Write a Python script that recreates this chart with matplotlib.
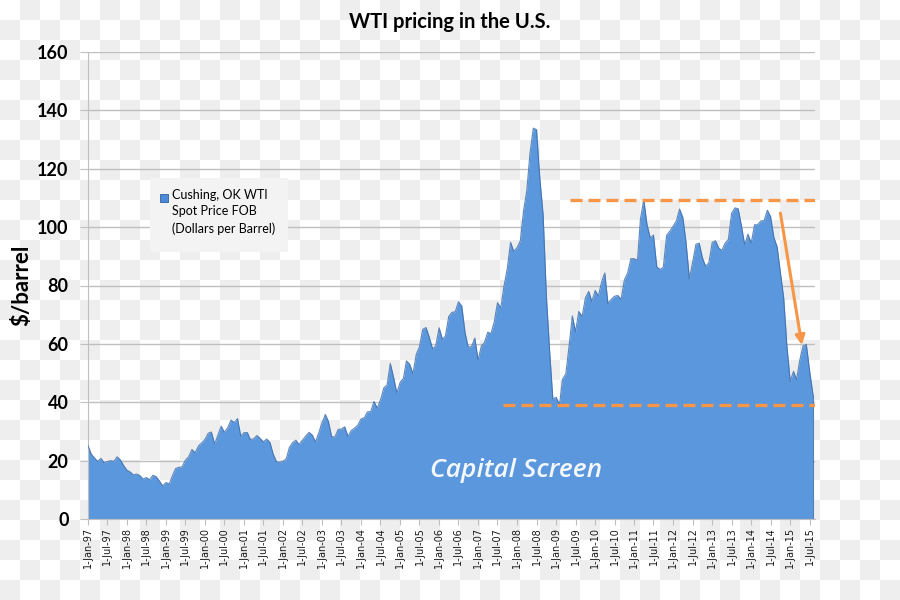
import numpy as np
import pandas as pd
import matplotlib
matplotlib.use("Agg")
import matplotlib.pyplot as plt
import matplotlib.dates as mdates
from matplotlib.patches import Rectangle

# monthly Cushing, OK WTI spot price, Jan 1997 .. Aug 2015 ($/barrel)
price_1997_2001 = [25.1, 22.2, 21.0, 19.7, 20.8, 19.3, 19.7, 20.0, 19.8, 21.3, 20.2, 18.3,
                   16.7, 16.1, 15.1, 15.4, 14.9, 13.7, 14.2, 13.5, 15.0, 14.5, 13.0, 11.4,
                   12.5, 12.0, 14.7, 17.3, 17.7, 17.9, 20.1, 21.3, 23.8, 22.7, 25.0, 26.1,
                   27.3, 29.4, 29.8, 25.7, 28.8, 31.8, 29.7, 31.3, 33.9, 33.1, 34.4, 28.4,
                   29.6, 29.6, 27.2, 27.5, 28.6, 27.6, 26.4, 27.4, 26.2, 22.2, 19.6, 19.4]
price_2002_2006 = [19.7, 20.7, 24.5, 26.2, 27.0, 25.5, 27.0, 28.4, 29.7, 28.8, 26.4, 29.5,
                   33.0, 35.8, 33.5, 28.2, 28.1, 30.7, 30.8, 31.6, 28.3, 30.3, 31.1, 32.1,
                   34.3, 34.7, 36.7, 36.8, 40.3, 38.0, 40.8, 44.9, 45.9, 53.3, 48.5, 43.2,
                   46.8, 48.2, 54.2, 53.0, 49.8, 56.4, 59.0, 65.0, 65.6, 62.3, 58.3, 59.4,
                   65.5, 61.6, 62.7, 69.4, 70.8, 71.0, 74.4, 73.0, 63.8, 58.9, 59.1, 62.0]
price_2007_2011 = [54.5, 59.3, 60.4, 64.0, 63.5, 67.5, 74.1, 72.4, 79.9, 85.8, 94.8, 91.7,
                   93.0, 95.4, 105.5, 112.6, 125.4, 133.9, 133.4, 116.7, 104.1, 76.6, 57.3, 41.1,
                   41.7, 39.1, 47.9, 49.7, 59.0, 69.6, 64.2, 71.1, 69.4, 75.7, 78.0, 74.5,
                   78.3, 76.4, 81.2, 84.3, 73.7, 75.3, 76.3, 76.6, 75.2, 81.9, 84.3, 89.2,
                   89.2, 88.6, 102.9, 109.5, 100.9, 96.3, 97.3, 86.3, 85.5, 86.3, 97.2, 98.6]
price_2012_2015 = [100.3, 102.2, 106.2, 103.3, 94.7, 82.3, 87.9, 94.1, 94.5, 89.5, 86.5, 87.9,
                   94.8, 95.3, 92.9, 92.0, 94.5, 95.8, 104.7, 106.6, 106.3, 100.5, 93.9, 97.6,
                   94.6, 100.8, 100.8, 102.1, 102.2, 105.8, 103.6, 96.5, 93.2, 84.4, 75.8, 59.3,
                   47.2, 50.6, 47.8, 54.5, 59.3, 59.8, 50.9, 42.9]
prices = price_1997_2001 + price_2002_2006 + price_2007_2011 + price_2012_2015
months = pd.date_range("1997-01-01", periods=len(prices), freq="MS")

tick_dates = pd.date_range("1997-01-01", "2015-07-01", freq="6MS")
tick_labels = [f"1-{d.strftime('%b')}-{d.strftime('%y')}" for d in tick_dates]

# orange annotation: resistance / support levels and the 2014-15 drop
high_level, high_start = 109.2, "2009-05-10"
low_level, low_start = 39.0, "2007-08-21"
level_end = "2015-08-21"
drop_from = ("2014-10-01", 104.8)
drop_to = ("2015-04-20", 59.6)

blue = "#5b97dc"
orange = "#f79646"
grid_grey = "#bfbfbf"

fig = plt.figure(figsize=(9, 6), dpi=100)

# transparent-png checkerboard backdrop
rows, cols = 30, 45
cells = np.add.outer(np.arange(rows), np.arange(cols)) % 2
shade = np.where(cells == 1, 0xee, 0xff) / 255.0
checker = np.kron(shade, np.ones((20, 20)))
checker_rgb = np.dstack([checker, checker, checker])
fig.figimage(checker_rgb, xo=0, yo=0, origin="upper", zorder=-10)

ax = fig.add_axes([88 / 900, 1 - 519 / 600, 727 / 900, 467 / 600])
ax.set_zorder(1)
ax.patch.set_alpha(0)

ax.fill_between(months, prices, 0, color=blue, linewidth=0, zorder=2)
ax.plot(months, prices, color="#3b6cab", lw=0.8, alpha=0.8, zorder=3)
ax.vlines(months[-1], 0, prices[-1], color="#3b6cab", lw=0.8, alpha=0.8, zorder=3)

ax.hlines(high_level, pd.Timestamp(high_start), pd.Timestamp(level_end), color=orange,
          lw=2.4, linestyles=(0, (3.6, 1.8)), zorder=4)
ax.hlines(low_level, pd.Timestamp(low_start), pd.Timestamp(level_end), color=orange,
          lw=2.4, linestyles=(0, (3.6, 1.8)), zorder=4)
ax.annotate("", xy=(pd.Timestamp(drop_to[0]), drop_to[1]),
            xytext=(pd.Timestamp(drop_from[0]), drop_from[1]),
            arrowprops=dict(arrowstyle="-|>", color=orange, lw=2.2, mutation_scale=14,
                            shrinkA=0, shrinkB=0), zorder=5)

ax.set_ylim(0, 160)
ax.set_xlim(pd.Timestamp("1997-01-01"), pd.Timestamp("2015-08-21"))
ax.set_yticks(np.arange(0, 161, 20))
ax.yaxis.grid(True, color=grid_grey, lw=1)
ax.set_axisbelow(True)
ax.set_xticks(mdates.date2num(tick_dates))
ax.set_xticklabels(tick_labels, rotation=90, fontsize=7, family="DejaVu Sans", color="#1a1a1a")
ax.tick_params(axis="x", length=4, color=grid_grey, pad=2)
ax.tick_params(axis="y", length=6, color=grid_grey, pad=8, labelsize=13)
for lab in ax.get_yticklabels():
    lab.set_fontweight("bold")
    lab.set_family("Lato")
for side in ["top", "right"]:
    ax.spines[side].set_visible(False)
ax.spines["left"].set_color(grid_grey)
ax.spines["bottom"].set_color(grid_grey)

ax.set_ylabel("$/barrel", fontsize=16, fontweight="bold", family="Lato")
ax.yaxis.set_label_coords(-0.076, 0.5)

fig.text(0.5, 1 - 22 / 600, "WTI pricing in the U.S.", ha="center", va="center",
         fontsize=14.5, fontweight="bold", family="Lato")

ax.text(0.589, 0.104, "Capital Screen", transform=ax.transAxes, ha="center", va="center",
        fontsize=19, style="italic", fontweight="semibold", family="Open Sans",
        color="#f4f7fc", zorder=6)

# legend box, drawn by hand so the marker sits on the first line
fig.patches.append(Rectangle((150 / 900, 1 - 252 / 600), 138 / 900, 74 / 600,
                             transform=fig.transFigure, facecolor="#f3f3f3",
                             edgecolor="none", zorder=5))
fig.patches.append(Rectangle((160 / 900, 1 - 202 / 600), 8 / 900, 8 / 600,
                             transform=fig.transFigure, facecolor="#4a8ad6",
                             edgecolor="#2f5f9e", lw=0.6, zorder=6))
fig.text(172 / 900, 1 - 189 / 600, "Cushing, OK WTI\nSpot Price FOB\n(Dollars per Barrel)",
         ha="left", va="top", fontsize=9, family="Lato", linespacing=1.45, zorder=7)

fig.savefig("out.png", dpi=100)
